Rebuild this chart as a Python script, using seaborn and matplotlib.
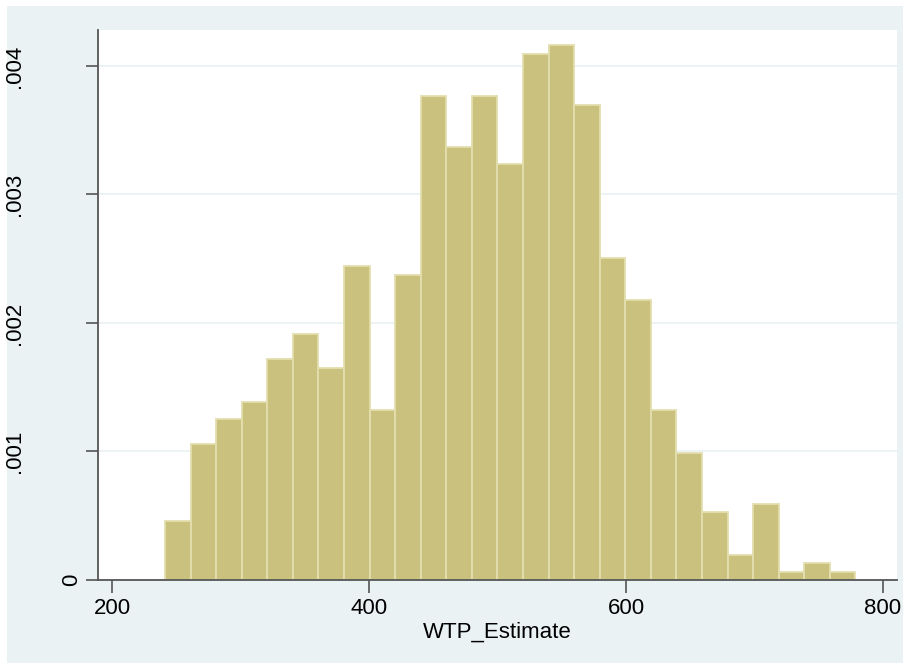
import numpy as np
import pandas as pd
import matplotlib
matplotlib.use("Agg")
import matplotlib.pyplot as plt
import matplotlib.transforms as mtransforms
import seaborn as sns

# histogram bins and counts
bin_edges = [241.2, 261.1, 281.0, 300.9, 320.8, 340.7, 360.6, 380.5, 400.4, 420.3,
             440.2, 460.1, 480.0, 499.9, 519.8, 539.7, 559.6, 579.5, 599.4, 619.3,
             639.2, 659.1, 679.0, 698.9, 718.8, 738.7, 758.6, 778.5]
counts = [7, 16, 19, 21, 26, 29, 25, 37, 20, 36, 57, 51, 57, 49, 62, 63, 56, 38, 33,
          20, 15, 8, 3, 9, 1, 2, 1]
x_ticks = [200, 400, 600, 800]
y_ticks = [0, 0.001, 0.002, 0.003, 0.004]
y_labels = ["0", ".001", ".002", ".003", ".004"]

centers = [(a + b) / 2 for a, b in zip(bin_edges[:-1], bin_edges[1:])]
df = pd.DataFrame({"WTP_Estimate": centers, "n": counts})

sns.set_style("white")
plt.rcParams["font.family"] = ["Liberation Sans", "DejaVu Sans"]

bg = "#EAF2F3"
W, H = 910, 669
fig = plt.figure(figsize=(W / 100, H / 100), dpi=100, facecolor="white")
fig.patches.append(plt.Rectangle((7 / W, 1 - 663 / H), 896 / W, 657 / H,
                                 transform=fig.transFigure, facecolor=bg,
                                 edgecolor="none", zorder=-10))
ax = fig.add_axes([98 / W, 1 - 580 / H, 799 / W, 550 / H])
ax.set_facecolor("white")

sns.histplot(data=df, x="WTP_Estimate", weights="n", bins=bin_edges, stat="density",
             color="#C9C17D", edgecolor="#E3DEAD", linewidth=1.3, alpha=1, ax=ax)

ax.set_xlim(189.1, 810.9)
ax.set_ylim(0, 0.00428)
ax.set_xticks(x_ticks)
ax.set_xticklabels([str(t) for t in x_ticks], fontsize=16, color="black")
ax.set_yticks(y_ticks)
ax.set_yticklabels([])
ax.yaxis.grid(True, color=bg, linewidth=1.3)
ax.set_axisbelow(True)
ax.tick_params(axis="both", direction="out", length=9, width=1.2, color="#555555",
               left=True, bottom=True, pad=4)
ax.set_xlabel("WTP_Estimate", fontsize=16, labelpad=2, color="black")
ax.set_ylabel("")

# Stata-style rotated y labels: "0" sits near the axis, the others far left
trans = mtransforms.blended_transform_factory(fig.transFigure, ax.transData)
for v, lab in zip(y_ticks, y_labels):
    xp = 71.5 if lab == "0" else 14.5
    ax.text(xp / W, v, lab, transform=trans, rotation=90, ha="center", va="center",
            fontsize=16, color="black", clip_on=False)

for s in ["top", "right"]:
    ax.spines[s].set_visible(False)
for s in ["left", "bottom"]:
    ax.spines[s].set_color("#555555")
    ax.spines[s].set_linewidth(1.3)
    ax.spines[s].set_zorder(5)

fig.savefig("out.png", dpi=100, facecolor="white")
